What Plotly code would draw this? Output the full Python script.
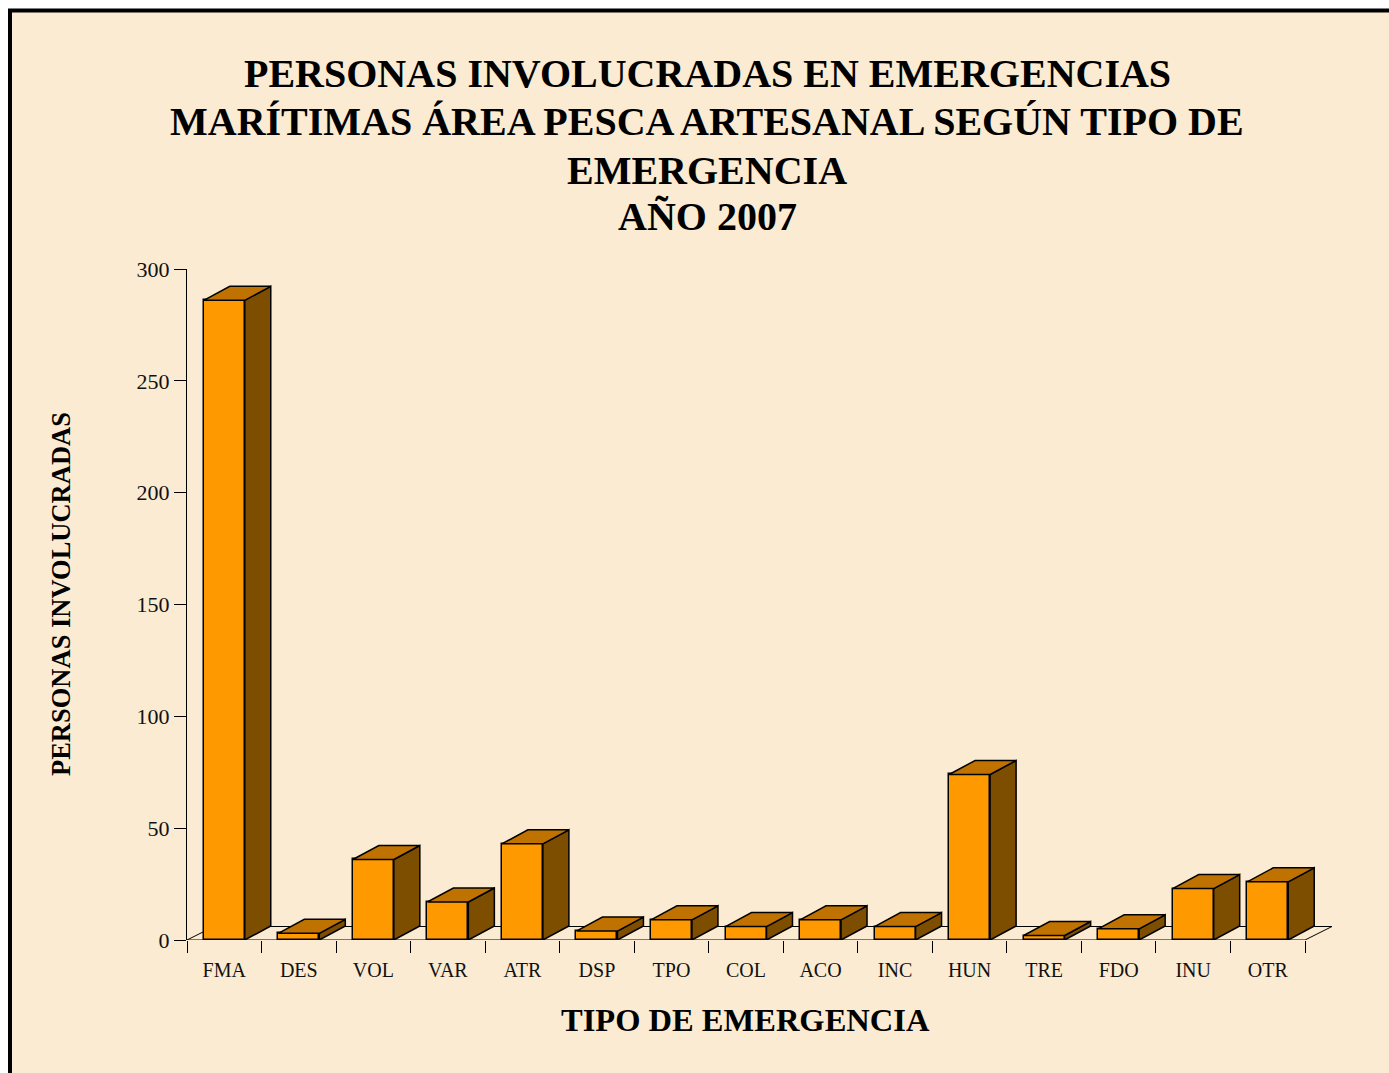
import plotly.graph_objects as go

# ---- data ----
categories = ["FMA", "DES", "VOL", "VAR", "ATR", "DSP", "TPO", "COL",
              "ACO", "INC", "HUN", "TRE", "FDO", "INU", "OTR"]
values = [286, 3, 36, 17, 43, 4, 9, 6, 9, 6, 74, 2, 5, 23, 26]
y_ticks = [0, 50, 100, 150, 200, 250, 300]

title_lines = ["PERSONAS INVOLUCRADAS EN EMERGENCIAS",
               "MARÍTIMAS ÁREA PESCA ARTESANAL SEGÚN TIPO DE",
               "EMERGENCIA",
               "AÑO 2007"]
x_title = "TIPO DE EMERGENCIA"
y_title = "PERSONAS INVOLUCRADAS"

# ---- layout geometry ----
W, H = 1389, 1073
L, T = 187, 269
PLOT_BOTTOM = 940
B = H - PLOT_BOTTOM
PH = PLOT_BOTTOM - T
YMAX = 300
YPX = PH / YMAX              # px per y unit
XPX = (1305 - 187) / len(categories)   # px per category
R = 54
PW = W - L - R
x_range = [-0.5, -0.5 + PW / XPX]

BAR_W = 0.55
DX = 26 / XPX
DY = 14 / YPX
FDX = 27 / XPX
FDY = 13.5 / YPX

FRONT = "#FF9900"
TOP = "#C07200"
SIDE = "#7D4D00"
BG = "#FAEBD2"
FONT = "Liberation Serif"

def px_x(px):
    return (px - L) / PW

def px_y(py):
    return (PLOT_BOTTOM - py) / PH

xs = list(range(len(categories)))

# side and top faces
side_x, side_y, top_x, top_y = [], [], [], []
for i, v in zip(xs, values):
    xl = i - BAR_W / 2
    xr = i + BAR_W / 2
    side_x += [xr, xr, xr + DX, xr + DX, xr, None]
    side_y += [0, v, v + DY, DY, 0, None]
    top_x += [xl, xr, xr + DX, xl + DX, xl, None]
    top_y += [v, v, v + DY, v + DY, v, None]

fig = go.Figure()
fig.add_trace(go.Bar(
    x=xs, y=values, width=BAR_W,
    marker=dict(color=FRONT, line=dict(color="black", width=1.5)),
    cliponaxis=False, hoverinfo="x+y", showlegend=False,
))
fig.add_trace(go.Scatter(
    x=side_x, y=side_y, mode="lines", fill="toself", fillcolor=SIDE,
    line=dict(color="black", width=1.5), cliponaxis=False,
    hoverinfo="skip", showlegend=False,
))
fig.add_trace(go.Scatter(
    x=top_x, y=top_y, mode="lines", fill="toself", fillcolor=TOP,
    line=dict(color="black", width=1.5), cliponaxis=False,
    hoverinfo="skip", showlegend=False,
))

x0, x1 = -0.5, len(categories) - 0.5
shapes = [
    # frame
    dict(type="rect", xref="paper", yref="paper",
         x0=px_x(10), x1=px_x(1420), y0=px_y(1100), y1=px_y(10.5),
         line=dict(color="black", width=4), fillcolor=BG, layer="below"),
    # floor
    dict(type="path", xref="x", yref="y",
         path=f"M {x0},0 L {x1},0 L {x1 + FDX},{FDY} L {x0 + FDX},{FDY} Z",
         line=dict(color="black", width=1), fillcolor="rgba(0,0,0,0)",
         layer="below"),
]

annotations = []
title_y = [74, 121, 170, 217]
for txt, py in zip(title_lines, title_y):
    annotations.append(dict(
        text=txt, xref="paper", yref="paper", x=px_x(707), y=px_y(py),
        xanchor="center", yanchor="middle", showarrow=False,
        font=dict(family=FONT, size=40, color="black", weight="bold")))
annotations.append(dict(
    text=x_title, xref="paper", yref="paper", x=px_x(745), y=px_y(1020),
    xanchor="center", yanchor="middle", showarrow=False,
    font=dict(family=FONT, size=32.5, color="black", weight="bold")))
annotations.append(dict(
    text=y_title, xref="paper", yref="paper", x=px_x(61), y=px_y(594),
    xanchor="center", yanchor="middle", showarrow=False, textangle=-90,
    font=dict(family=FONT, size=26.5, color="black", weight="bold")))

fig.update_layout(
    width=W, height=H,
    margin=dict(l=L, r=R, t=T, b=B, pad=0),
    paper_bgcolor="white",
    plot_bgcolor="rgba(0,0,0,0)",
    shapes=shapes,
    annotations=annotations,
    font=dict(family=FONT, color="black"),
    xaxis=dict(
        range=x_range, tickmode="array", tickvals=xs, ticktext=categories,
        ticks="outside", ticklen=12, tickcolor="rgba(0,0,0,0)",
        tickfont=dict(family=FONT, size=20, color="#111"),
        showgrid=False, zeroline=False, showline=False,
        minor=dict(tickmode="array",
                   tickvals=[i - 0.5 for i in range(len(categories) + 1)],
                   ticks="outside", ticklen=12, tickcolor="black", tickwidth=1,
                   showgrid=False),
    ),
    yaxis=dict(
        range=[0, YMAX], tickmode="array", tickvals=y_ticks,
        ticks="outside", ticklen=12, tickcolor="black", tickwidth=1,
        tickfont=dict(family=FONT, size=22, color="#111"),
        showgrid=False, zeroline=False, showline=True,
        linecolor="black", linewidth=1,
    ),
    bargap=0,
)

fig.write_html("out.html", config={"displayModeBar": False},
               post_script="document.body.style.margin='0';")
